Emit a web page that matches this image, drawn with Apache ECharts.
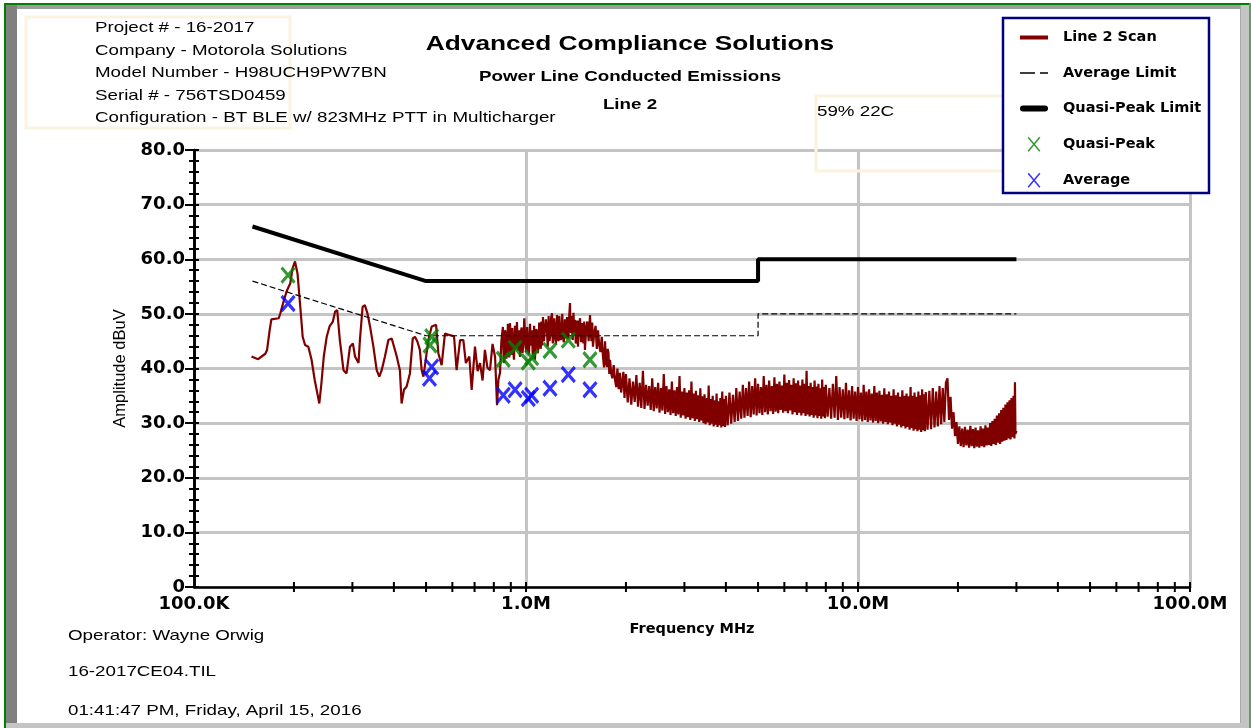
<!DOCTYPE html>
<html>
<head>
<meta charset="utf-8">
<script src="https://cdn.jsdelivr.net/npm/echarts@6/dist/echarts.min.js"></script>
<style>
html, body { margin: 0; padding: 0; background: #fff; }
#main { width: 1251px; height: 728px; }
</style>
</head>
<body>
<div id="main"></div>
<script>
// Line 2 scan, [MHz, dBuV]
var scan = [
  [0.149,42.2],[0.156,41.7],[0.164,42.7],[0.166,43.4],[0.169,47.0],[0.171,49.0],[0.180,49.2],[0.182,50.1],
  [0.186,52.2],[0.190,54.1],[0.195,55.6],[0.198,58.3],[0.2015,59.6],[0.205,57.4],[0.209,51.3],[0.2125,45.8],
  [0.216,44.3],[0.221,44.0],[0.226,41.6],[0.231,37.9],[0.2385,33.6],[0.242,37.3],[0.246,42.2],[0.251,45.8],
  [0.256,47.7],[0.262,48.6],[0.266,50.4],[0.270,50.7],[0.275,45.2],[0.282,39.7],[0.288,39.1],[0.295,44.0],
  [0.301,44.6],[0.3055,42.2],[0.313,41.0],[0.316,45.2],[0.322,51.3],[0.327,51.6],[0.333,50.1],[0.339,47.7],
  [0.347,44.0],[0.355,39.7],[0.3615,38.5],[0.3675,39.7],[0.376,42.2],[0.385,45.2],[0.394,45.5],[0.403,43.4],
  [0.408,42.2],[0.417,39.7],[0.422,33.6],[0.429,36.1],[0.437,36.7],[0.447,39.1],[0.456,45.5],[0.463,45.8],
  [0.471,44.9],[0.479,43.4],[0.485,39.7],[0.491,38.5],[0.508,45.2],[0.520,47.7],[0.536,48.0],[0.5445,42.8],
  [0.557,40.6],[0.570,46.4],[0.590,46.1],[0.607,45.9],[0.618,39.7],[0.633,45.2],[0.6475,45.2],[0.659,41.0],
  [0.675,42.2],[0.686,36.1],[0.702,44.0],[0.715,39.5],[0.727,41.0],[0.740,37.8],[0.752,43.4],[0.765,40.2],
  [0.779,39.7],[0.793,44.5],[0.807,42.1],[0.818,33.3],[0.826,38.0],[0.835,39.2],[0.843,45.0],[0.852,47.6],
  [0.856,42.4],[0.860,41.0],[0.865,47.0],[0.869,46.2],[0.873,41.8],[0.877,42.8],[0.882,48.2],[0.886,47.0],
  [0.890,42.0],[0.895,48.3],[0.900,44.6],[0.904,42.5],[0.909,47.4],[0.914,44.0],[0.920,41.6],[0.926,47.8],
  [0.932,43.5],[0.939,48.5],[0.944,44.8],[0.949,43.2],[0.954,47.0],[0.959,42.1],[0.965,46.6],[0.970,47.5],
  [0.976,42.8],[0.982,44.6],[0.988,49.2],[0.993,48.9],[0.998,43.8],[1.003,43.0],[1.008,47.6],[1.014,44.0],
  [1.021,42.6],[1.028,48.2],[1.035,44.2],[1.042,47.0],[1.048,42.4],[1.053,43.5],[1.058,47.8],[1.064,41.6],
  [1.072,47.2],[1.080,46.8],[1.085,42.8],[1.090,43.8],[1.096,48.4],[1.102,45.8],[1.108,43.6],[1.113,48.6],
  [1.119,44.2],[1.125,49.4],[1.132,45.0],[1.140,44.8],[1.148,49.0],[1.157,46.5],[1.163,44.0],[1.170,49.6],
  [1.177,45.0],[1.184,46.2],[1.191,49.4],[1.198,50.1],[1.204,44.6],[1.210,45.5],[1.216,49.2],[1.223,47.0],
  [1.231,44.4],[1.240,49.8],[1.246,46.0],[1.253,45.0],[1.260,49.6],[1.266,49.4],[1.273,45.2],[1.280,46.2],
  [1.286,50.0],[1.292,45.8],[1.300,44.8],[1.310,49.0],[1.320,45.6],[1.329,49.4],[1.336,45.4],[1.343,46.0],
  [1.350,49.8],[1.357,52.0],[1.361,47.4],[1.366,46.5],[1.371,49.6],[1.376,47.0],[1.383,45.2],[1.390,50.2],
  [1.398,46.0],[1.405,48.9],[1.412,44.6],[1.420,45.2],[1.427,48.8],[1.434,44.0],[1.444,48.0],[1.455,49.2],
  [1.465,44.8],[1.475,48.3],[1.482,45.6],[1.490,44.6],[1.498,48.6],[1.505,43.4],[1.517,47.0],[1.530,48.6],
  [1.544,45.0],[1.559,49.8],[1.567,46.4],[1.575,45.0],[1.583,48.4],[1.591,44.0],[1.606,46.6],[1.620,47.8],
  [1.634,43.6],[1.648,47.0],[1.662,44.2],[1.676,43.0],[1.691,45.8],[1.706,42.1],[1.718,40.2],[1.730,45.0],
  [1.742,41.0],[1.754,40.3],[1.763,43.6],[1.772,42.8],[1.782,39.0],[1.791,41.6],[1.805,39.2],[1.820,38.2],
  [1.837,40.6],[1.854,37.9],[1.870,36.6],[1.885,40.0],[1.902,36.2],[1.919,39.2],[1.935,35.6],[1.950,35.8],
  [1.965,39.4],[1.980,34.6],
  [2.000,39.0],[2.025,33.8],[2.050,38.2],[2.075,33.4],[2.100,37.6],[2.125,33.9],[2.150,38.8],[2.175,33.0],
  [2.200,37.4],[2.225,32.8],[2.250,39.6],[2.275,32.6],[2.300,37.0],[2.325,33.2],[2.350,36.8],[2.375,32.4],
  [2.400,38.2],[2.425,32.2],[2.450,36.6],[2.475,32.7],[2.500,37.4],[2.525,31.9],[2.550,36.4],[2.575,32.3],
  [2.600,39.0],[2.625,31.7],[2.650,36.8],[2.675,32.0],[2.700,36.2],[2.725,31.5],[2.750,37.6],[2.775,31.8],
  [2.800,36.0],[2.825,31.3],[2.850,36.6],[2.875,31.6],[2.900,38.6],[2.925,31.0],[2.950,35.8],[2.975,31.4],
  [3.000,36.4],[3.025,30.8],[3.050,35.6],[3.075,31.1],[3.100,36.0],[3.125,30.6],[3.150,37.6],[3.175,30.9],
  [3.200,35.4],[3.225,30.4],[3.250,35.9],[3.275,30.7],[3.300,35.1],[3.325,30.2],[3.350,36.4],[3.375,30.5],
  [3.400,34.9],[3.425,30.0],[3.450,35.3],[3.475,29.8],[3.500,34.6],[3.525,30.1],[3.550,36.9],[3.575,29.6],
  [3.600,34.4],[3.625,29.9],[3.650,35.0],[3.675,29.4],[3.700,34.2],[3.725,29.7],[3.750,35.4],[3.775,29.3],
  [3.800,34.0],[3.825,29.6],[3.850,34.6],[3.875,29.2],[3.900,35.8],[3.925,29.5],[3.950,34.4],[3.975,29.3],
  [4.00,35.0],[4.05,29.6],[4.10,35.6],[4.15,29.9],[4.20,35.2],[4.25,30.2],[4.30,36.4],[4.35,30.4],
  [4.40,35.8],[4.45,30.8],[4.50,37.0],[4.55,31.0],[4.60,36.4],[4.65,31.3],[4.70,37.6],[4.75,31.1],
  [4.80,36.8],[4.85,31.6],[4.90,38.2],[4.95,31.4],[5.00,37.2],[5.05,31.8],[5.10,36.6],[5.15,31.5],
  [5.20,38.6],[5.25,32.0],[5.30,37.0],[5.35,31.6],[5.40,37.8],[5.45,32.2],[5.50,36.8],[5.55,31.7],
  [5.60,38.4],[5.65,32.1],[5.70,37.2],[5.75,31.8],[5.80,37.6],[5.85,32.4],[5.90,36.9],[5.95,31.9],
  [6.00,38.9],[6.05,32.2],[6.10,37.4],[6.15,31.8],[6.20,37.9],[6.25,32.3],[6.30,37.0],[6.35,31.6],
  [6.40,38.2],[6.45,32.0],[6.50,37.3],[6.55,31.5],[6.60,37.8],[6.65,31.9],[6.70,36.9],[6.75,31.4],
  [6.80,38.0],[6.85,31.8],[6.90,37.2],[6.95,31.3],[7.00,39.6],[7.05,31.6],[7.10,36.8],[7.15,31.2],
  [7.20,37.4],[7.25,31.5],[7.30,36.6],[7.35,31.0],[7.40,37.8],[7.45,31.4],[7.50,36.7],[7.55,30.9],
  [7.60,37.2],[7.65,31.3],[7.70,36.4],[7.75,30.8],[7.80,38.0],[7.85,31.2],[7.90,36.6],[7.95,30.9],
  [8.0,37.0],[8.1,31.2],[8.2,36.4],[8.3,30.8],[8.4,37.2],[8.5,31.0],[8.6,38.6],[8.7,30.6],
  [8.8,36.6],[8.9,31.0],[9.0,36.2],[9.1,30.7],[9.2,37.4],[9.3,30.9],[9.4,36.0],[9.5,30.5],
  [9.6,36.8],[9.7,30.8],[9.8,35.8],[9.9,30.4],[10.0,36.6],[10.1,30.7],[10.2,35.6],[10.3,30.3],
  [10.4,37.0],[10.5,30.6],[10.6,35.8],[10.7,30.2],[10.8,36.2],[10.9,30.5],[11.0,35.4],[11.1,30.1],
  [11.2,36.8],[11.3,30.4],[11.4,35.6],[11.5,30.0],[11.6,35.9],[11.7,30.3],[11.8,35.2],[11.9,29.9],
  [12.0,36.4],[12.1,30.2],[12.2,35.3],[12.3,29.8],[12.4,35.8],[12.5,30.1],[12.6,35.0],[12.7,29.6],
  [12.8,36.2],[12.9,29.9],[13.0,35.1],[13.1,29.4],[13.2,35.6],[13.3,29.7],[13.4,34.8],[13.5,29.2],
  [13.6,36.0],[13.7,29.5],[13.8,35.0],[13.9,29.0],[14.0,35.4],[14.1,29.3],[14.2,34.9],[14.3,28.8],
  [14.4,36.6],[14.5,29.1],[14.6,35.0],[14.7,28.6],[14.8,35.6],[14.9,28.9],[15.0,34.8],[15.1,28.5],
  [15.2,35.8],[15.3,28.8],[15.4,35.1],[15.5,28.4],[15.6,36.2],[15.7,28.7],[15.8,35.3],[15.9,28.5],
  [16.0,35.7],[16.2,28.8],[16.4,35.9],[16.6,28.9],[16.8,36.4],[17.0,29.2],[17.2,35.8],[17.4,29.4],
  [17.6,36.8],[17.8,29.8],[18.0,36.4],[18.2,30.2],[18.4,37.4],[18.6,38.2],[18.8,30.6],[19.0,34.8],
  [19.2,29.0],[19.4,32.0],[19.6,27.6],[19.8,30.2],[20.0,26.2],[20.2,29.4],[20.4,25.8],[20.6,29.0],
  [20.8,25.6],[21.0,29.3],[21.2,25.9],[21.4,28.8],[21.6,25.5],[21.8,29.5],[22.0,25.8],[22.2,28.9],
  [22.4,25.4],[22.6,29.2],[22.8,25.7],[23.0,28.7],[23.2,25.5],[23.4,29.4],[23.6,25.8],[23.8,29.0],
  [24.0,25.6],[24.2,29.6],[24.4,25.9],[24.6,29.2],[24.8,26.0],[25.0,30.0],[25.2,25.8],[25.4,30.4],
  [25.6,26.2],[25.8,30.8],[26.0,26.0],[26.2,31.4],[26.4,26.4],[26.6,31.8],[26.8,26.2],[27.0,32.4],
  [27.2,26.6],[27.4,32.8],[27.6,26.8],[27.8,33.4],[28.0,26.9],[28.2,33.8],[28.4,27.2],[28.6,34.2],
  [28.8,27.0],[29.0,34.6],[29.2,27.4],[29.4,35.0],[29.6,27.2],[29.7,37.5],[29.8,28.0],[30.0,28.6]
];

// CISPR limits
var limitFreq = [0.15, 0.5, 5, 5, 30];
var qpLimit   = [66, 56, 56, 60, 60];
var avgLimit  = [56, 46, 46, 50, 50];

// measured peaks
var qpFreq   = [0.192, 0.514, 0.520, 0.854, 0.927, 1.016, 1.040, 1.181, 1.341, 1.558];
var qpLevel  = [57.1, 44.3, 45.8, 41.7, 43.7, 41.2, 42.0, 43.3, 45.2, 41.6];
var avgFreq  = [0.192, 0.512, 0.520, 0.854, 0.927, 1.016, 1.040, 1.181, 1.341, 1.558];
var avgLevel = [51.9, 38.2, 40.3, 35.1, 36.1, 34.5, 35.1, 36.4, 38.9, 36.1];

// x axis marks
var xTickFreq = [0.2,0.3,0.4,0.5,0.6,0.7,0.8,0.9,1,2,3,4,5,6,7,8,9,10,20,30,40,50,60,70,80,90,100];
var xLabelText = ['100.0K', '1.0M', '10.0M', '100.0M'];

var infoLines = [
  'Project # - 16-2017',
  'Company - Motorola Solutions',
  'Model Number - H98UCH9PW7BN',
  'Serial # - 756TSD0459',
  'Configuration - BT BLE w/ 823MHz PTT in Multicharger'
];
var footLines = ['Operator: Wayne Orwig', '16-2017CE04.TIL', '01:41:47 PM, Friday, April 15, 2016'];

function pairs(xs, ys) {
  var out = [];
  for (var i = 0; i < xs.length; i++) out.push([xs[i], ys[i]]);
  return out;
}

var xMark = 'path://M0,0L10,12M10,0L0,12';
var arial = '"Liberation Sans", Arial, sans-serif';
var wide = '"DejaVu Sans", sans-serif';

// stretched Arial text, like the original printout
function txt(str, x, y, size, bold, align) {
  return {
    type: 'text', x: x, y: y, scaleX: 1.25, z: 5,
    style: {
      text: str, x: 0, y: 0,
      font: (bold ? 'bold ' : '') + size + 'px ' + arial,
      fill: '#000', textAlign: align || 'left', textVerticalAlign: 'middle'
    }
  };
}

var gfx = [
  // window frame
  {type: 'rect', z: 1, shape: {x: 4, y: 3, width: 1247, height: 2}, style: {fill: '#008000'}},
  {type: 'rect', z: 1, shape: {x: 4, y: 3, width: 2, height: 725}, style: {fill: '#008000'}},
  {type: 'rect', z: 1, shape: {x: 1249, y: 3, width: 2, height: 725}, style: {fill: '#5aa05a'}},
  {type: 'rect', z: 1, shape: {x: 6, y: 5, width: 1234, height: 4}, style: {fill: '#9c9c9c'}},
  {type: 'rect', z: 1, shape: {x: 6, y: 5, width: 11, height: 723}, style: {fill: '#808080'}},
  {type: 'rect', z: 1, shape: {x: 1240, y: 5, width: 9, height: 723}, style: {fill: '#c4c4c4'}},
  {type: 'rect', z: 1, shape: {x: 1240, y: 5, width: 1, height: 723}, style: {fill: '#a8a8a8'}},
  {type: 'rect', z: 1, shape: {x: 6, y: 723, width: 1243, height: 5}, style: {fill: '#c4c4c4'}},
  // faint note boxes
  {type: 'rect', z: 1, shape: {x: 26, y: 17, width: 264, height: 111}, style: {fill: 'none', stroke: '#fcf3df', lineWidth: 3}},
  {type: 'rect', z: 1, shape: {x: 816, y: 96, width: 188, height: 75}, style: {fill: 'none', stroke: '#fcf3df', lineWidth: 3}},
  // legend frame
  {type: 'rect', z: 3, shape: {x: 1003, y: 18, width: 206, height: 175}, style: {fill: '#fff', stroke: '#000080', lineWidth: 2.5}},
  txt('Advanced Compliance Solutions', 630, 44, 21, true, 'center'),
  txt('Power Line Conducted Emissions', 630, 77, 15, true, 'center'),
  txt('Line 2', 630, 105, 15, true, 'center'),
  txt('59% 22C', 817, 112, 15, false)
];
infoLines.forEach(function (s, i) { gfx.push(txt(s, 95, 28 + i * 22.5, 15, false)); });
footLines.forEach(function (s, i) { gfx.push(txt(s, 68, [636, 672, 711][i], 15, false)); });

var chart = echarts.init(document.getElementById('main'));
var option = {
  backgroundColor: '#fff',
  animation: false,
  graphic: gfx,
  grid: {left: 194, right: 61, top: 150, bottom: 141},
  legend: {
    orient: 'vertical', left: 1015, top: 25, z: 5,
    itemWidth: 28, itemHeight: 14, itemGap: 20.5,
    textStyle: {fontFamily: wide, fontWeight: 'bold', fontSize: 14.5, color: '#000', padding: [0, 0, 0, 10], lineHeight: 14},
    data: [
      {name: 'Line 2 Scan', icon: 'path://M0,0L28,0L28,4L0,4Z', itemStyle: {color: '#800000', borderWidth: 0}},
      {name: 'Average Limit', icon: 'path://M0,0h15v1.4h-15zM20,0h8v1.4h-8z', itemStyle: {color: '#000', borderWidth: 0}},
      {name: 'Quasi-Peak Limit', icon: 'path://M3,0L25,0A3,3,0,0,1,25,6L3,6A3,3,0,0,1,3,0Z', itemStyle: {color: '#000', borderWidth: 0}},
      {name: 'Quasi-Peak', icon: xMark, itemStyle: {color: '#008000', borderColor: '#008000', borderWidth: 1.5}},
      {name: 'Average', icon: xMark, itemStyle: {color: '#0000ff', borderColor: '#0000ff', borderWidth: 1.5}}
    ]
  },
  xAxis: {
    type: 'log', logBase: 10, min: 0.1, max: 100,
    name: 'Frequency MHz', nameLocation: 'middle', nameGap: 35,
    nameTextStyle: {fontFamily: wide, fontWeight: 'bold', fontSize: 14.5, color: '#000'},
    axisLine: {lineStyle: {color: '#000', width: 2.5}},
    axisTick: {show: false},
    axisLabel: {
      margin: 8, fontFamily: wide, fontWeight: 'bold', fontSize: 18, color: '#000',
      formatter: function (v) { return xLabelText[Math.round(Math.log10(v)) + 1]; }
    },
    splitLine: {show: true, lineStyle: {color: '#c4c4c4', width: 3}}
  },
  yAxis: [{
    type: 'value', min: 0, max: 80, interval: 10, position: 'left',
    name: 'Amplitude dBuV', nameLocation: 'middle', nameGap: 65,
    nameTextStyle: {fontFamily: arial, fontSize: 16.5, color: '#000'},
    axisLine: {show: true, lineStyle: {color: '#000', width: 2.5}},
    axisTick: {show: true, length: 9, lineStyle: {color: '#000', width: 2}},
    minorTick: {show: true, splitNumber: 5, length: 5, lineStyle: {color: '#000', width: 2}},
    axisLabel: {
      margin: 9, fontFamily: wide, fontWeight: 'bold', fontSize: 18, color: '#000',
      formatter: function (v) { return v === 0 ? '0' : v.toFixed(1); }
    },
    splitLine: {show: true, lineStyle: {color: '#c4c4c4', width: 3}}
  }, {
    // same scale again, ticks on the inner side
    type: 'value', min: 0, max: 80, interval: 10, position: 'left', offset: 0,
    axisLine: {show: true, lineStyle: {color: '#000', width: 2.5}},
    axisTick: {show: true, inside: true, length: 5, lineStyle: {color: '#000', width: 2}},
    minorTick: {show: true, splitNumber: 5, length: 5, lineStyle: {color: '#000', width: 2}},
    axisLabel: {show: false},
    splitLine: {show: false}
  }],
  series: [
    {
      name: 'Line 2 Scan', type: 'line', data: scan, symbol: 'none', z: 2,
      lineStyle: {color: '#800000', width: 2.2}, itemStyle: {color: '#800000'}
    },
    {
      name: 'Average Limit', type: 'line', data: pairs(limitFreq, avgLimit), symbol: 'none', z: 3,
      lineStyle: {color: '#000', width: 1.2, type: [6, 3]}, itemStyle: {color: '#000'}
    },
    {
      name: 'Quasi-Peak Limit', type: 'line', data: pairs(limitFreq, qpLimit), symbol: 'none', z: 3,
      lineStyle: {color: '#000', width: 4}, itemStyle: {color: '#000'}
    },
    {
      name: 'Quasi-Peak', type: 'scatter', data: pairs(qpFreq, qpLevel), z: 4,
      symbol: xMark, symbolSize: [13, 15],
      itemStyle: {color: '#008000', borderColor: '#008000', borderWidth: 3.2}
    },
    {
      name: 'Average', type: 'scatter', data: pairs(avgFreq, avgLevel), z: 4,
      symbol: xMark, symbolSize: [13, 15],
      itemStyle: {color: '#0000ff', borderColor: '#0000ff', borderWidth: 3.2}
    },
    {
      // tick marks crossing the frequency axis
      name: 'xticks', type: 'custom', z: 5, silent: true, clip: false,
      data: xTickFreq.map(function (f) { return [f, 0]; }),
      renderItem: function (params, api) {
        var p = api.coord([api.value(0), 0]);
        return {type: 'line', shape: {x1: p[0], y1: p[1] - 5, x2: p[0], y2: p[1] + 5}, style: {stroke: '#000', lineWidth: 2}};
      }
    }
  ]
};
chart.setOption(option);
</script>
</body>
</html>
